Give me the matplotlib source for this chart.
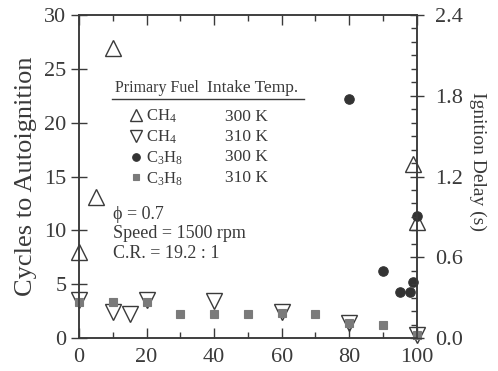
import matplotlib
matplotlib.use('Agg')
import matplotlib.pyplot as plt
from matplotlib.ticker import MultipleLocator, FormatStrFormatter
from matplotlib.lines import Line2D

plt.rcParams['font.family'] = ['Liberation Serif', 'DejaVu Serif']
plt.rcParams['mathtext.fontset'] = 'custom'
plt.rcParams['mathtext.rm'] = 'Liberation Serif'
plt.rcParams['mathtext.it'] = 'Liberation Serif:italic'

# percent of primary fuel (x) vs cycles to autoignition (y)
ch4_300_x = [0, 5, 10, 99, 100]
ch4_300_y = [8.0, 13.1, 26.9, 16.2, 10.8]
ch4_310_x = [0, 10, 15, 20, 40, 60, 80, 100]
ch4_310_y = [3.5, 2.4, 2.2, 3.5, 3.4, 2.4, 1.4, 0.3]
c3h8_300_x = [80, 90, 95, 98, 99, 100]
c3h8_300_y = [22.2, 6.2, 4.3, 4.3, 5.2, 11.3]
c3h8_310_x = [0, 10, 20, 30, 40, 50, 60, 70, 80, 90, 100]
c3h8_310_y = [3.3, 3.3, 3.3, 2.2, 2.2, 2.2, 2.3, 2.2, 1.4, 1.2, 0.3]

fuel_labels = ['CH$_4$', 'CH$_4$', 'C$_3$H$_8$', 'C$_3$H$_8$']
temp_labels = ['300 K', '310 K', '300 K', '310 K']
conditions = ['\u03d5 = 0.7', 'Speed = 1500 rpm', 'C.R. = 19.2 : 1']

ink = '#3a3a3a'
dark = '#333333'
grey = '#7a7a7a'

fig, ax = plt.subplots(figsize=(4.98, 3.71), dpi=100)
fig.subplots_adjust(left=0.1586, right=0.837, bottom=0.0889, top=0.9596)

styles = [
    dict(marker='^', ms=11.5, mfc='none', mec=ink, mew=1.0),
    dict(marker='v', ms=11.5, mfc='none', mec=ink, mew=1.0),
    dict(marker='o', ms=6.8, mfc=dark, mec=dark, mew=0.8),
    dict(marker='s', ms=6.2, mfc=grey, mec=grey, mew=0.8),
]
series = [(ch4_300_x, ch4_300_y), (ch4_310_x, ch4_310_y),
          (c3h8_300_x, c3h8_300_y), (c3h8_310_x, c3h8_310_y)]
for (x, y), st in zip(series, styles):
    ax.plot(x, y, ls='none', clip_on=False, zorder=3, **st)

ax.set_xlim(0, 100)
ax.set_ylim(0, 30)
ax.xaxis.set_major_locator(MultipleLocator(20))
ax.xaxis.set_minor_locator(MultipleLocator(10))
ax.yaxis.set_major_locator(MultipleLocator(5))
ax.tick_params(axis='x', which='both', direction='in', top=True, colors=ink,
               labelsize=16, pad=7)
ax.tick_params(axis='x', which='major', length=7, width=1.0)
ax.tick_params(axis='x', which='minor', length=4, width=1.0)
ax.tick_params(axis='y', direction='inout', length=12, width=1.0, colors=ink,
               labelsize=16, pad=3)
ax.set_ylabel('Cycles to Autoignition', fontsize=19, color=ink, labelpad=5)

ax2 = ax.twinx()
ax2.set_ylim(0, 2.4)
ax2.yaxis.set_major_locator(MultipleLocator(0.6))
ax2.yaxis.set_minor_locator(MultipleLocator(0.1))
ax2.yaxis.set_major_formatter(FormatStrFormatter('%.1f'))
ax2.tick_params(axis='y', which='major', direction='inout', length=10, width=1.0,
                colors=ink, labelsize=16, pad=8)
ax2.tick_params(axis='y', which='minor', direction='in', length=4, width=1.0,
                colors=ink)
ax2.set_ylabel('Ignition Delay (s)', fontsize=14, color=ink, rotation=270,
               va='center')
ax2.yaxis.set_label_coords(1.18, 0.545)

for a in (ax, ax2):
    for sp in a.spines.values():
        sp.set_color(ink)
        sp.set_linewidth(1.1)

# legend table
ax.text(0.107, 0.774, 'Primary Fuel', transform=ax.transAxes, fontsize=11.5,
        color=ink, va='center', ha='left')
ax.text(0.38, 0.774, 'Intake Temp.', transform=ax.transAxes, fontsize=12.5,
        color=ink, va='center', ha='left')
ax.plot([0.098, 0.665], [0.74, 0.74], transform=ax.transAxes, color=ink,
        lw=1.0, clip_on=False)
handles = [Line2D([], [], ls='none', **st) for st in styles]
ax.legend(handles, fuel_labels, loc='upper left', bbox_to_anchor=(0.145, 0.712),
          frameon=False, fontsize=12, handlelength=1.0, handletextpad=0.1,
          labelspacing=0.2, borderpad=0, borderaxespad=0, markerscale=0.8,
          labelcolor=ink)
row_y = [0.684, 0.622, 0.560, 0.495]
for yy, t in zip(row_y, temp_labels):
    ax.text(0.432, yy, t, transform=ax.transAxes, fontsize=12.5, color=ink,
            va='center', ha='left')

ax.text(0.10, 0.41, '\n'.join(conditions), transform=ax.transAxes,
        fontsize=13, color=ink, va='top', ha='left', linespacing=1.2)

fig.savefig('out.png', dpi=100)
